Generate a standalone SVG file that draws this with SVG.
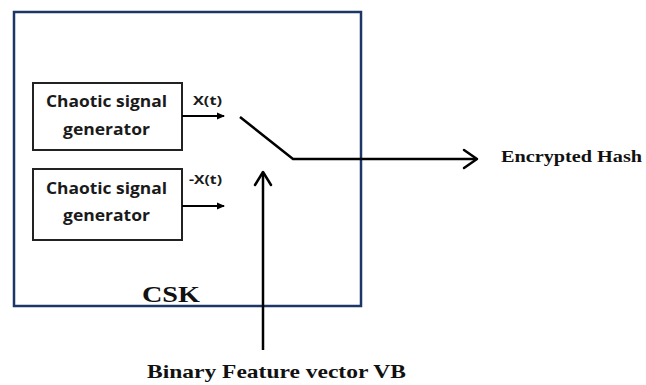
<svg xmlns="http://www.w3.org/2000/svg" width="646" height="385" viewBox="0 0 646 385">
  <style>
    .frame { fill: none; stroke: #1c3766; stroke-width: 2.5; }
    .box { fill: #ffffff; stroke: #222222; stroke-width: 2; }
    .wire { fill: none; stroke: #000000; stroke-width: 2.5; }
    .thin { fill: none; stroke: #000000; stroke-width: 2; }
    .head { fill: none; stroke: #000000; stroke-width: 2.5; stroke-linecap: round; stroke-linejoin: round; }
    .sans { font-family: "Open Sans", "Liberation Sans", sans-serif; font-weight: bold; fill: #1a1a1a; }
    .serif { font-family: "Liberation Serif", "Times New Roman", serif; font-weight: bold; fill: #111111; }
  </style>
  <defs>
    <marker id="tri" markerWidth="8" markerHeight="8" refX="7" refY="4" orient="auto" markerUnits="userSpaceOnUse">
      <path d="M0,0.5 L8,4 L0,7.5 Z" fill="#000"/>
    </marker>
  </defs>
  <rect width="646" height="385" fill="#ffffff"/>

  <!-- CSK enclosure -->
  <g id="csk">
    <rect class="frame" x="14" y="12" width="347" height="294"/>
    <text class="serif" x="142" y="302" font-size="23" textLength="58" lengthAdjust="spacingAndGlyphs">CSK</text>
  </g>

  <!-- generator for X(t) -->
  <g id="gen1">
    <rect class="box" x="33" y="83" width="149" height="67"/>
    <text class="sans" x="46" y="107" font-size="16" textLength="121" lengthAdjust="spacingAndGlyphs">Chaotic signal</text>
    <text class="sans" x="63" y="135" font-size="16" textLength="87" lengthAdjust="spacingAndGlyphs">generator</text>
  </g>

  <!-- generator for -X(t) -->
  <g id="gen2">
    <rect class="box" x="33" y="169" width="149" height="71"/>
    <text class="sans" x="46" y="194" font-size="16" textLength="121" lengthAdjust="spacingAndGlyphs">Chaotic signal</text>
    <text class="sans" x="63" y="221" font-size="16" textLength="87" lengthAdjust="spacingAndGlyphs">generator</text>
  </g>

  <!-- outputs and labels -->
  <g id="labels">
    <text class="sans" x="193" y="105" font-size="13" textLength="29" lengthAdjust="spacingAndGlyphs">X(t)</text>
    <text class="sans" x="189" y="184" font-size="13" textLength="33" lengthAdjust="spacingAndGlyphs">-X(t)</text>
    <text class="serif" x="501" y="162" font-size="17" textLength="141" lengthAdjust="spacingAndGlyphs">Encrypted Hash</text>
    <text class="serif" x="147" y="378" font-size="19" textLength="259" lengthAdjust="spacingAndGlyphs">Binary Feature vector VB</text>
  </g>

  <!-- connectors -->
  <g id="connectors">
    <line class="thin" x1="182" y1="116" x2="224" y2="116" marker-end="url(#tri)"/>
    <line class="thin" x1="182" y1="206" x2="224" y2="206" marker-end="url(#tri)"/>
    <!-- switch blade and output -->
    <polyline class="wire" points="240,117 293,159 476,159"/>
    <polyline class="head" points="464,150 477,159 464,168"/>
    <!-- control input -->
    <line class="wire" x1="263" y1="350" x2="263" y2="173"/>
    <polyline class="head" points="255,185 263,172 271,185"/>
  </g>
</svg>
